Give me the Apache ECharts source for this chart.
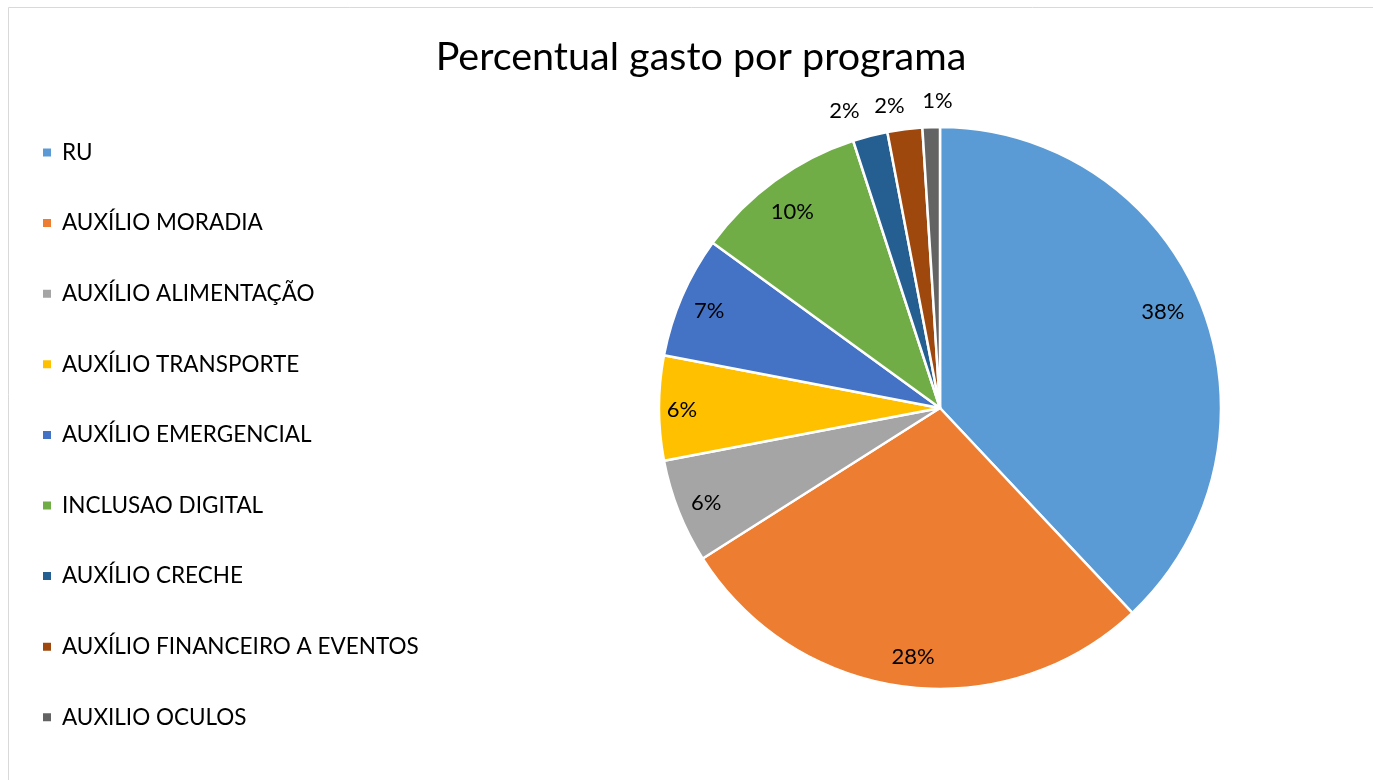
<!DOCTYPE html>
<html>
<head>
<meta charset="utf-8">
<script src="https://cdn.jsdelivr.net/npm/echarts@6/dist/echarts.min.js"></script>
<style>
  html, body { margin: 0; padding: 0; background: #fff; }
  #chart { width: 1373px; height: 780px; }
</style>
</head>
<body>
<div id="chart"></div>
<script>
const categories = [
  'RU',
  'AUXÍLIO MORADIA',
  'AUXÍLIO ALIMENTAÇÃO',
  'AUXÍLIO TRANSPORTE',
  'AUXÍLIO EMERGENCIAL',
  'INCLUSAO DIGITAL',
  'AUXÍLIO CRECHE',
  'AUXÍLIO FINANCEIRO A EVENTOS',
  'AUXILIO OCULOS'
];
const percentages = [38, 28, 6, 6, 7, 10, 2, 2, 1];
const colors = ['#5B9BD5', '#ED7D31', '#A5A5A5', '#FFC000', '#4472C4', '#70AD47', '#255E91', '#9E480E', '#636363'];
// slices this small get their label outside the pie
const outsideLabel = [false, false, false, false, false, false, true, true, true];
// small nudges so the labels sit like a best-fit layout
const labelNudge = [[-6, -6], [4, 5], [-5, 4], [-12, 2], [-5, 1], [-3, 3], [-19, 1], [-12, 3], [7, 1]];

const FONT = 'Lato, "Open Sans", sans-serif';
const center = [940, 408];
const R = 281;

const sliceData = categories.map((name, i) => ({
  name, value: percentages[i], itemStyle: { color: colors[i] }
}));

function labelData(showOutside) {
  return categories.map((name, i) => ({
    name, value: percentages[i],
    label: { show: outsideLabel[i] === showOutside, offset: labelNudge[i] }
  }));
}

const labelStyle = {
  position: 'inside',
  formatter: p => p.value + '%',
  color: '#000',
  fontSize: 22,
  fontFamily: FONT
};

const chart = echarts.init(document.getElementById('chart'));
chart.setOption({
  animation: false,
  color: colors,
  title: {
    text: 'Percentual gasto por programa',
    left: 696,
    textAlign: 'center',
    top: 32,
    textStyle: { fontSize: 39.5, fontWeight: 'normal', color: '#000', fontFamily: FONT }
  },
  legend: {
    orient: 'vertical',
    left: 41,
    top: 141,
    padding: 0,
    icon: 'rect',
    itemWidth: 10,
    itemHeight: 10,
    itemGap: 47.6,
    data: categories,
    textStyle: { fontSize: 22.5, color: '#000', fontFamily: FONT, lineHeight: 22, padding: [0, 0, 0, 5] }
  },
  graphic: [{
    type: 'rect',
    shape: { x: 8.5, y: 7.5, width: 1400, height: 800 },
    style: { fill: 'none', stroke: '#d9d9d9', lineWidth: 1 },
    silent: true
  }],
  series: [
    {
      type: 'pie',
      center, radius: [0, R],
      startAngle: 90, clockwise: true,
      label: { show: false }, labelLine: { show: false },
      itemStyle: { borderColor: '#fff', borderWidth: 2.5 },
      emphasis: { disabled: true },
      data: sliceData
    },
    {
      // ring used only to place the inner labels
      type: 'pie',
      center, radius: [205, R],
      startAngle: 90, clockwise: true, silent: true,
      itemStyle: { color: 'rgba(0,0,0,0)' },
      label: labelStyle, labelLine: { show: false },
      emphasis: { disabled: true },
      data: labelData(false)
    },
    {
      // ring just beyond the pie for the small-slice labels
      type: 'pie',
      center, radius: [292, 318],
      startAngle: 90, clockwise: true, silent: true,
      itemStyle: { color: 'rgba(0,0,0,0)' },
      label: labelStyle, labelLine: { show: false },
      emphasis: { disabled: true },
      data: labelData(true)
    }
  ]
});
</script>
</body>
</html>
